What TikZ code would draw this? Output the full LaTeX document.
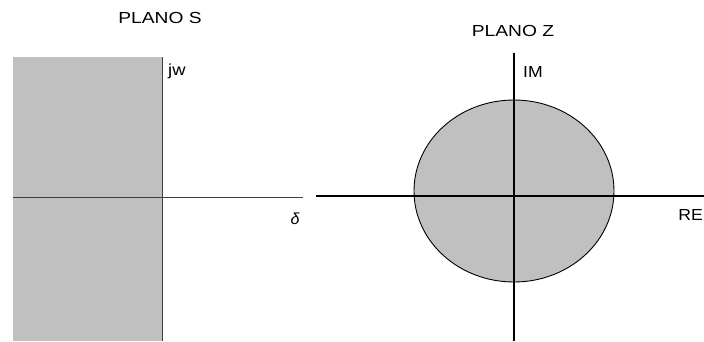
\documentclass[tikz,border=0pt]{standalone}
\usepackage{fontspec}
\setmainfont{Liberation Sans}
\definecolor{planegray}{HTML}{C0C0C0}
\definecolor{axisdark}{HTML}{404040}
\tikzset{
  lbl/.style={inner sep=0pt, font=\fontsize{16}{18}\selectfont},
  axisline/.style={draw=black, line width=1.1pt},
  axisthin/.style={draw=axisdark, line width=1pt},
}
\begin{document}
\begin{tikzpicture}[x=1pt,y=-1pt]
\useasboundingbox (0,0) rectangle (704,341);
% S plane
\fill[planegray] (13,57) rectangle (162,341);
\draw[axisthin] (13,197) -- (303,197);
\draw[axisthin] (162,57) -- (162,341);
\node[lbl] (ps) at (160,18) {\scalebox{1.2}[1]{PLANO S}};
\node[lbl, anchor=west] (jw) at (168,71) {\scalebox{1.15}[1]{jw}};
\node[lbl] (delta) at (295,219) {\itshape δ};
% Z plane
\filldraw[fill=planegray, draw=black, line width=0.9pt] (514,191) ellipse [x radius=100, y radius=91];
\draw[axisline] (316,196) -- (704,196);
\draw[axisline] (514,53) -- (514,341);
\node[lbl] (pz) at (513,31) {\scalebox{1.2}[1]{PLANO Z}};
\node[lbl, anchor=west] (im) at (523,72) {\scalebox{1.1}[1]{IM}};
\node[lbl, anchor=east] (re) at (703,215) {\scalebox{1.1}[1]{RE}};
\end{tikzpicture}
\end{document}
